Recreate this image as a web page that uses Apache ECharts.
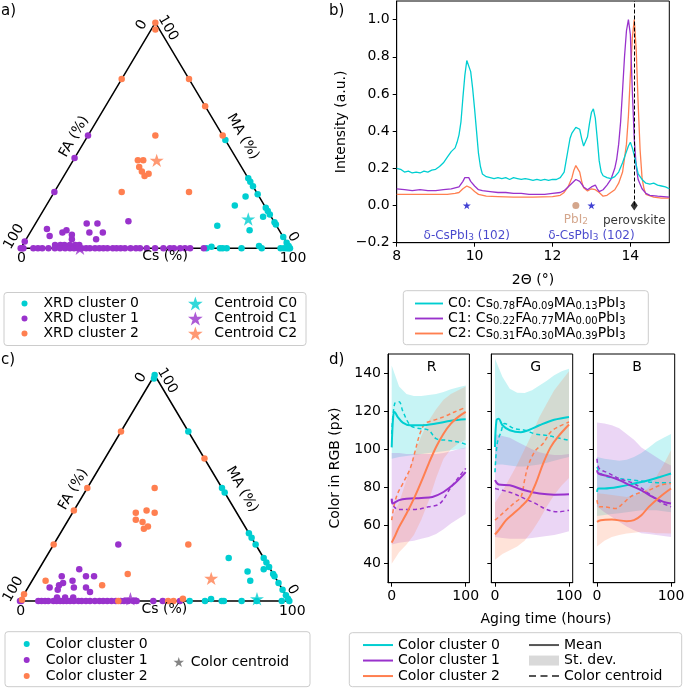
<!DOCTYPE html>
<html><head><meta charset="utf-8">
<script src="https://cdn.jsdelivr.net/npm/echarts@6/dist/echarts.min.js"></script>
<style>html,body{margin:0;padding:0;background:#fff}#c{width:685px;height:689px}</style>
</head><body><div id="c"></div>
<script>
// ---------------- DATA ----------------
// Ternary compositions [Cs, FA, MA] in %
const TRI_VERTICES = [[0,100,0],[100,0,0],[0,0,100],[0,100,0]];
const A_CLUSTER0 = [[52,0,48],[69,0,31],[70.5,0,29.5],[72.5,0,27.5],[76,0,24],[72,5,23],[70,11,19],[82,0,18],[83.5,0,16.5],[85,0,15],[83,3,14],[88.5,0,11.5],[89.5,0,10.5],[68,22,10],[81,11,8],[95,0,5],[97.5,0,2.5],[99,0,1],[100,0,0],[69,31,0],[70.5,28.8,0.7],[74,26,0],[75,25,0],[76.5,23.5,0],[82,18,0],[88,11,1],[89.5,10.5,0],[96.5,3.5,0],[97.8,2.2,0],[98.8,1.2,0],[99.5,0.5,0]];
const A_CLUSTER1 = [[0,50,50],[0,60,40],[0,75,25],[34,54,12],[19,70,11],[23,66,11],[5.5,86,8.5],[12,81,7],[13,79,8],[8,86.5,5.5],[17,79,4],[16,78,6],[22,71,7],[27,66,7],[26,70,4],[0,97,3],[12,86.5,1.5],[14,84.5,1.5],[15.5,83,1.5],[17.5,81,1.5],[19.5,79,1.5],[21,77.5,1.5],[0,100,0],[0.5,99.5,0],[1,99,0],[4.7,95.3,0],[6.4,93.6,0],[8,92,0],[10.3,89.7,0],[12.7,87.3,0],[14.6,85.4,0],[16.5,83.5,0],[18.3,81.7,0],[19.8,80.2,0],[21.4,78.6,0],[22.6,77.4,0],[24.3,75.7,0],[25.7,74.3,0],[27.6,72.4,0],[29.2,70.8,0],[30.7,69.3,0],[32.2,67.8,0],[34.2,65.8,0],[35.6,64.4,0],[37.1,62.9,0],[38.7,61.3,0],[40.8,59.2,0],[42.8,57.2,0],[44.3,55.7,0],[46.8,53.2,0],[49.9,50.1,0],[53,47,0],[55.4,44.6,0],[56.9,43.1,0],[59.2,40.8,0],[61,39,0],[62.9,37.1,0],[68,32,0]];
const A_CLUSTER2 = [[0,0,100],[1.5,1.5,97],[0,25,75],[25,0,75],[37,0,63],[50,0,50],[25,25,50],[24,37,39],[26,35,39],[26,38,36],[28,38,34],[30,38,32],[31,36,33],[25,50,25],[50,25,25]];
const XRD_CENTROIDS = [[0.78,0.09,0.13],[0.22,0.77,0.00],[0.31,0.30,0.39]];

const C_CLUSTER0 = [[0,0,100],[0.5,1,98.5],[25,0,75],[50,0,50],[52,0,48],[70,0,30],[72,0,28],[75,0,25],[68,13,19],[81,0,19],[83,0,17],[85,0,15],[78,9,13],[83.5,2.5,14],[88,0,12],[89,0,11],[81,10,9],[92,0,8],[95,0,5],[97.5,0,2.5],[99,0,1],[100,0,0],[63,37,0],[68.7,31.3,0],[70.5,28.6,0.9],[74.9,25.1,0],[75.7,24.3,0],[82.3,17.7,0],[87.9,12.1,0],[97.2,2.8,0]];
const C_CLUSTER1 = [[24,51,25],[15,71,14],[19,70,11],[22,67,11],[10,79,11],[15,76,9],[11,82,7],[12,80,8],[8,86,6],[11.5,83.5,5],[17,77,6],[21.5,72.5,6],[24,72,4],[13,85.5,1.5],[16,82.5,1.5],[19,79.5,1.5],[0,100,0],[0.5,99.5,0],[6.8,93.2,0],[8,92,0],[9.3,90.7,0],[10.5,89.5,0],[12.4,87.6,0],[13.6,86.4,0],[14.9,85.1,0],[16.1,83.9,0],[17.3,82.7,0],[18.6,81.4,0],[20,80,0],[21.7,78.3,0],[22.9,77.1,0],[24.5,75.5,0],[26,74,0],[27.8,72.2,0],[29.5,70.5,0],[30.9,69.1,0],[32.4,67.6,0],[34,66,0],[35.6,64.4,0],[37.4,62.6,0],[38.6,61.4,0],[40.2,59.8,0],[42.1,57.9,0],[43.3,56.7,0],[49.5,50.5,0],[53,47,0],[59.4,40.6,0]];
const C_CLUSTER2 = [[0,25,75],[37,0,63],[0,50,50],[25,25,50],[0,60,40],[23.5,37.5,39],[27,33,40],[30.5,30.5,39],[25,39,36],[28,37,35],[30,38,32],[31,36,33],[0,75,25],[50,25,25],[34,54,12],[5,86,9],[27,66,7],[0,97,3],[0.5,99,0.5],[36.5,63.5,0],[55,45,0],[57,43,0],[60,39,1]];
const C_CENTROIDS = [[87.5,11.5,1],[40.5,58.5,1],[66,24,10]];

// XRD patterns [2theta, intensity]
const XRD_C0 = [[8.0,0.20],[8.1,0.195],[8.2,0.18],[8.3,0.185],[8.4,0.175],[8.5,0.18],[8.6,0.175],[8.7,0.185],[8.8,0.18],[8.9,0.19],[9.0,0.195],[9.1,0.21],[9.2,0.23],[9.3,0.26],[9.4,0.29],[9.5,0.31],[9.55,0.34],[9.6,0.38],[9.65,0.45],[9.7,0.58],[9.75,0.70],[9.8,0.78],[9.85,0.77],[9.9,0.72],[9.95,0.63],[10.0,0.52],[10.05,0.40],[10.1,0.28],[10.15,0.21],[10.2,0.17],[10.3,0.155],[10.4,0.15],[10.5,0.145],[10.6,0.15],[10.7,0.145],[10.8,0.15],[10.9,0.14],[11.0,0.15],[11.1,0.145],[11.2,0.14],[11.3,0.145],[11.4,0.14],[11.5,0.135],[11.6,0.14],[11.7,0.135],[11.8,0.14],[11.9,0.135],[12.0,0.14],[12.1,0.14],[12.2,0.15],[12.3,0.18],[12.35,0.24],[12.4,0.30],[12.45,0.36],[12.5,0.39],[12.55,0.40],[12.6,0.42],[12.65,0.43],[12.7,0.41],[12.75,0.36],[12.8,0.32],[12.85,0.33],[12.9,0.37],[12.95,0.44],[13.0,0.50],[13.05,0.52],[13.1,0.47],[13.15,0.36],[13.2,0.24],[13.25,0.18],[13.3,0.16],[13.4,0.15],[13.5,0.145],[13.6,0.155],[13.7,0.18],[13.8,0.23],[13.9,0.29],[13.95,0.32],[14.0,0.34],[14.05,0.31],[14.1,0.27],[14.15,0.22],[14.2,0.17],[14.3,0.14],[14.4,0.12],[14.5,0.115],[14.6,0.12],[14.7,0.11],[14.8,0.105],[14.9,0.10],[15.0,0.09]];
const XRD_C1 = [[8.0,0.09],[8.2,0.085],[8.4,0.08],[8.6,0.085],[8.8,0.08],[9.0,0.08],[9.2,0.085],[9.4,0.09],[9.5,0.095],[9.6,0.10],[9.7,0.13],[9.75,0.15],[9.8,0.16],[9.85,0.15],[9.9,0.13],[10.0,0.105],[10.1,0.085],[10.2,0.08],[10.4,0.075],[10.6,0.07],[10.8,0.07],[11.0,0.065],[11.2,0.065],[11.4,0.06],[11.6,0.06],[11.8,0.06],[12.0,0.065],[12.2,0.07],[12.3,0.08],[12.4,0.10],[12.5,0.12],[12.6,0.14],[12.65,0.14],[12.7,0.13],[12.8,0.10],[12.9,0.085],[13.0,0.10],[13.05,0.11],[13.1,0.11],[13.15,0.09],[13.2,0.075],[13.3,0.085],[13.4,0.11],[13.5,0.14],[13.6,0.20],[13.65,0.25],[13.7,0.33],[13.75,0.45],[13.8,0.62],[13.85,0.80],[13.9,0.94],[13.95,1.0],[14.0,0.92],[14.05,0.62],[14.1,0.36],[14.15,0.21],[14.2,0.14],[14.3,0.09],[14.4,0.065],[14.5,0.055],[14.7,0.05],[15.0,0.045]];
const XRD_C2 = [[8.0,0.06],[8.3,0.06],[8.6,0.06],[9.0,0.06],[9.3,0.06],[9.5,0.065],[9.6,0.07],[9.7,0.09],[9.8,0.105],[9.9,0.095],[10.0,0.075],[10.1,0.06],[10.3,0.05],[10.6,0.048],[11.0,0.045],[11.5,0.045],[12.0,0.048],[12.2,0.055],[12.3,0.07],[12.4,0.10],[12.5,0.15],[12.55,0.19],[12.6,0.215],[12.65,0.22],[12.7,0.18],[12.75,0.13],[12.8,0.095],[12.9,0.078],[13.0,0.09],[13.05,0.095],[13.1,0.085],[13.2,0.07],[13.3,0.05],[13.4,0.055],[13.5,0.07],[13.6,0.085],[13.7,0.12],[13.8,0.18],[13.9,0.33],[13.95,0.48],[14.0,0.70],[14.05,0.90],[14.1,1.0],[14.15,0.84],[14.2,0.55],[14.25,0.30],[14.3,0.15],[14.35,0.09],[14.4,0.06],[14.6,0.045],[14.8,0.04],[15.0,0.04]];
const PEAK_DELTA = [9.8, 13.0];
const PEAK_PBI2 = [12.6];
const PEAK_PEROV = [14.1];
const B_XTICKS = [8,10,12,14];
const B_YTICKS = [-0.2,0,0.2,0.4,0.6,0.8,1.0];

// Color vs aging time
const D_XTICKS = [0,100];
const D_YTICKS = [40,60,80,100,120,140];
const BAND_X = [0,10,20,30,40,50,60,70,80,90,100];
const R_C0_UP = [144,133,129,128,128,128.5,129,130,131.5,132.5,133.5];
const R_C0_LO = [95,96,96.5,97,97.5,98,98.5,99,99.5,100,100.5];
const R_C1_UP = [98,98,97.5,97.5,97.5,97.5,97.5,98,99,100,101];
const R_C1_LO = [50,51,51.5,52,53,54,55.5,58,61,63.5,66];
const R_C2_UP = [64,72,84,97,107,115,121,126,129,131,133];
const R_C2_LO = [40,46,50,55,63,73,85,95,100,103,105];
const G_C0_UP = [147.5,138,131.8,129.7,129.5,131,133.5,136,138.8,141,142.3];
const G_C0_LO = [92,92,91.5,91,91,91.5,92,93,94,95,96];
const G_C1_UP = [108,107,106,104,102,100,98.5,97.5,97,97,97.5];
const G_C1_LO = [54,53.5,53,53,53,53.5,54,54.5,55,56,57];
const G_C2_UP = [72,78,85,92,100,108,117,124,131,136,141];
const G_C2_LO = [42,45,47,49,52,57,63,70,76,81,85];
const B_C0_UP = [96,95,94.5,94,94.5,96,98,101,104,106,108];
const B_C0_LO = [65,65.5,66,66.5,67,67.5,68,68,68,67.5,67];
const B_C1_UP = [114,113.5,112.6,111,108,105,101,98.5,96,93.5,91.5];
const B_C1_LO = [70,67,64.5,62,59.5,57.5,56,55.5,55,54.5,54];
const B_C2_UP = [77,76.5,76,75.5,75,75.5,77,80,85.5,92,99.5];
const B_C2_LO = [49,52,54,55,55.8,56.2,56.7,56.5,56,55.9,55.8];

const R_C0_MEAN = [[0,101],[2,117],[4,119.6],[8,117],[15,114],[25,112.6],[40,112.6],[60,113.5],[80,115],[100,115.7]];
const R_C1_MEAN = [[0,74],[1,71.5],[10,73.3],[20,74.1],[40,74.5],[55,75],[70,77.6],[85,82],[100,88]];
const R_C2_MEAN = [[0,51],[5,55],[10,59.3],[20,66.3],[30,74.1],[40,83],[50,92.5],[60,101.2],[70,108.2],[80,113.5],[90,117],[100,119.6]];
const R_C0_CENT = [[0,108],[4,124],[10,125],[15,120],[25,112.6],[35,111],[50,110],[60,105.6],[75,104.7],[90,103.8],[100,102.6]];
const R_C1_CENT = [[0,74],[3,70],[10,68.4],[30,68.4],[50,69.8],[65,71.5],[80,80],[100,90]];
const R_C2_CENT = [[0,62.8],[3,70],[8,76.8],[15,82],[25,90],[32,99.5],[38,108],[45,113.5],[55,115],[70,117],[85,119.6],[100,122]];
const G_C0_MEAN = [[0,101.2],[2,115.2],[5,116],[10,112.6],[20,110],[35,109],[45,110],[60,112.6],[80,115.5],[100,117]];
const G_C1_MEAN = [[0,83.8],[5,81.5],[20,81.1],[40,78.5],[60,76.8],[80,76.2],[100,76.4]];
const G_C2_MEAN = [[0,55.3],[5,57.6],[15,62.8],[25,66.3],[35,69.8],[45,74],[55,82],[65,92.5],[75,101],[85,106.5],[100,113]];
const G_C0_CENT = [[0,88],[3,103],[8,109],[13,113.5],[25,111],[40,110],[55,108],[70,107.3],[85,106],[100,104.7]];
const G_C1_CENT = [[0,79.4],[10,78.5],[25,76.8],[40,74.1],[55,71.5],[70,68.4],[85,67.2],[100,68]];
const G_C2_CENT = [[0,62.8],[5,64.5],[15,68],[25,71.5],[35,75],[40,83.8],[45,91.6],[55,99.5],[65,103],[75,109],[85,111.7],[100,114.3]];
const B_C0_MEAN = [[0,77.6],[2,79.4],[10,79.4],[30,80.3],[50,82],[70,83.8],[85,85.5],[100,87.3]];
const B_C1_MEAN = [[0,89],[2,87.3],[15,85.9],[30,83.8],[45,81.1],[60,78.5],[75,75],[90,72.4],[100,71.5]];
const B_C2_MEAN = [[0,61.9],[5,62.8],[20,63.1],[40,62.3],[50,62.8],[60,65.4],[70,69.8],[85,75],[100,79.4]];
const B_C0_CENT = [[0,90.7],[5,87.3],[15,85.5],[30,84.6],[50,83.8],[70,82.9],[85,82.4],[100,82.4]];
const B_C1_CENT = [[0,95],[3,89.9],[15,87.6],[30,84.6],[50,82],[70,76.8],[85,72.4],[100,69.8]];
const B_C2_CENT = [[0,73.3],[3,69.8],[10,69.8],[25,68.9],[35,71.5],[45,75],[55,76.8],[70,78.5],[85,81.1],[100,82]];

// ---------------- STYLE / LAYOUT ----------------
const FONT = 'DejaVu Sans';
const FS = 14;
const COLORS = ['#00CED1', '#9932CC', '#FF7F50'];
const BAND_FILL = ['rgba(0,206,209,0.22)', 'rgba(153,50,204,0.2)', 'rgba(255,127,80,0.22)'];
const STAR = 'path://M100,0 L122.45,69.1 L195.1,69.1 L136.3,111.8 L158.8,180.9 L100,138.2 L41.2,180.9 L63.7,111.8 L4.9,69.1 L77.55,69.1 Z';
const ICON_SOLID = 'path://M0,0h30v2h-30z';
const ICON_DASH = 'path://M0,0h7v2h-7z M11.5,0h7v2h-7z M23,0h7v2h-7z';
const tern = p => [p[0] / 100 + p[2] / 200, p[2] / 100];

const chart = echarts.init(document.getElementById('c'), null, {renderer: 'canvas'});

const gridBox = {show: true, borderColor: '#000', borderWidth: 1, backgroundColor: 'transparent', outerBoundsMode: 'none'};
const grids = [
  {left: 20.7, top: 22.7, width: 269.3, height: 225.6, outerBoundsMode: 'none'},
  Object.assign({left: 396.7, top: 1, width: 272.6, height: 241.7}, gridBox),
  {left: 20, top: 375, width: 269.3, height: 226, outerBoundsMode: 'none'},
  Object.assign({left: 388, top: 354, width: 81.4, height: 228.7}, gridBox),
  Object.assign({left: 491.3, top: 354, width: 81.4, height: 228.7}, gridBox),
  Object.assign({left: 593.3, top: 354, width: 81.4, height: 228.7}, gridBox)
];
const axLine = {show: true, onZero: false, lineStyle: {color: '#000', width: 1}};
const tick = vals => ({show: true, length: 4, lineStyle: {color: '#000', width: 1}, customValues: vals});
const lab = (vals, extra) => Object.assign({show: true, customValues: vals, color: '#000', fontSize: FS, fontFamily: FONT, margin: 7}, extra || {});
const hidden = gi => ({gridIndex: gi, type: 'value', min: 0, max: 1, show: false});

const xAxes = [
  hidden(0),
  {gridIndex: 1, type: 'value', min: 8, max: 15, axisLine: axLine, axisTick: tick(B_XTICKS), axisLabel: lab(B_XTICKS), splitLine: {show: false},
   name: '2Θ (°)', nameLocation: 'middle', nameGap: 31, nameTextStyle: {fontSize: FS, color: '#000', fontFamily: FONT}},
  hidden(2)
];
const yAxes = [
  hidden(0),
  {gridIndex: 1, type: 'value', min: -0.2, max: 1.1, axisLine: axLine, axisTick: tick(B_YTICKS),
   axisLabel: lab(B_YTICKS, {formatter: v => (v < 0 ? '\u2212' : '') + Math.abs(v).toFixed(1)}), splitLine: {show: false},
   name: 'Intensity (a.u.)', nameLocation: 'middle', nameGap: 48, nameTextStyle: {fontSize: FS, color: '#000', fontFamily: FONT}},
  hidden(2)
];
[3, 4, 5].forEach(gi => {
  xAxes.push({gridIndex: gi, type: 'value', min: -5, max: 105, axisLine: axLine, axisTick: tick(D_XTICKS), axisLabel: lab(D_XTICKS), splitLine: {show: false}});
  yAxes.push({gridIndex: gi, type: 'value', min: 30, max: 150, axisLine: axLine, axisTick: tick(D_YTICKS),
    axisLabel: gi === 3 ? lab(D_YTICKS) : {show: false}, splitLine: {show: false}});
});

const series = [];
// ---- ternary panels ----
function ternPanel(gi, prefix, clusters, names, centroidSeries) {
  series.push({type: 'line', xAxisIndex: gi, yAxisIndex: gi, data: TRI_VERTICES.map(tern), symbol: 'none', silent: true, clip: false,
    lineStyle: {color: '#000', width: 1.5}, z: 1});
  clusters.forEach((pts, k) => series.push({type: 'scatter', name: prefix + names[k], xAxisIndex: gi, yAxisIndex: gi, clip: false,
    data: pts.map(tern), symbol: 'circle', symbolSize: 6.5, itemStyle: {color: COLORS[k], opacity: 1}, z: 3}));
  centroidSeries.forEach(s => series.push(Object.assign({type: 'scatter', xAxisIndex: gi, yAxisIndex: gi, clip: false,
    symbol: STAR, symbolKeepAspect: true, z: 4}, s)));
}
ternPanel(0, '', [A_CLUSTER0, A_CLUSTER1, A_CLUSTER2], ['XRD cluster 0', 'XRD cluster 1', 'XRD cluster 2'],
  XRD_CENTROIDS.map((c, k) => ({name: 'Centroid C' + k, data: [tern(c.map(v => v * 100))], symbolSize: 14, itemStyle: {color: COLORS[k]}})));
ternPanel(2, 'c:', [C_CLUSTER0, C_CLUSTER1, C_CLUSTER2], ['Color cluster 0', 'Color cluster 1', 'Color cluster 2'],
  [{name: 'c:Color centroid', symbolSize: 14, itemStyle: {color: '#666666'},
    data: C_CENTROIDS.map((c, k) => ({value: tern(c), itemStyle: {color: COLORS[k]}}))}]);

// ---- XRD ----
[XRD_C0, XRD_C1, XRD_C2].forEach((d, k) => series.push({type: 'line', name: 'C' + k, xAxisIndex: 1, yAxisIndex: 1, data: d,
  symbol: 'none', lineStyle: {color: COLORS[k], width: 1.3}, itemStyle: {color: COLORS[k]}, z: 3 - k}));
const subRich = {s: {fontSize: 9, lineHeight: 9, verticalAlign: 'bottom'}};
series.push({type: 'scatter', xAxisIndex: 1, yAxisIndex: 1, symbol: STAR, symbolKeepAspect: true, symbolSize: 8, silent: true,
  itemStyle: {color: '#1010c8'}, data: PEAK_DELTA.map(x => [x, 0]),
  label: {show: true, position: 'bottom', distance: 21, formatter: 'δ-CsPbI{s|3} (102)', color: '#1a1ac0', fontSize: 12, fontFamily: FONT, rich: subRich}, z: 5});
series.push({type: 'scatter', xAxisIndex: 1, yAxisIndex: 1, symbol: 'circle', symbolSize: 7, silent: true,
  itemStyle: {color: '#c9906f'}, data: PEAK_PBI2.map(x => [x, 0]),
  label: {show: true, position: 'bottom', distance: 5, formatter: 'PbI{s|2}', color: '#c9906f', fontSize: 12, fontFamily: FONT, rich: subRich}, z: 5});
series.push({type: 'scatter', xAxisIndex: 1, yAxisIndex: 1, symbol: 'diamond', symbolSize: [7, 10], silent: true,
  itemStyle: {color: '#000'}, data: PEAK_PEROV.map(x => [x, 0]),
  label: {show: true, position: 'bottom', distance: 4, formatter: 'perovskite', color: '#000', fontSize: 12, fontFamily: FONT}, z: 5,
  markLine: {silent: true, symbol: ['none', 'none'], label: {show: false}, lineStyle: {color: '#000', type: 'dashed', width: 1},
    data: PEAK_PEROV.map(x => [{coord: [x, 0]}, {coord: [x, 1.1]}])}});

// ---- color vs time ----
const D_SETS = [
  {gi: 3, up: [R_C0_UP, R_C1_UP, R_C2_UP], lo: [R_C0_LO, R_C1_LO, R_C2_LO], mean: [R_C0_MEAN, R_C1_MEAN, R_C2_MEAN], cent: [R_C0_CENT, R_C1_CENT, R_C2_CENT]},
  {gi: 4, up: [G_C0_UP, G_C1_UP, G_C2_UP], lo: [G_C0_LO, G_C1_LO, G_C2_LO], mean: [G_C0_MEAN, G_C1_MEAN, G_C2_MEAN], cent: [G_C0_CENT, G_C1_CENT, G_C2_CENT]},
  {gi: 5, up: [B_C0_UP, B_C1_UP, B_C2_UP], lo: [B_C0_LO, B_C1_LO, B_C2_LO], mean: [B_C0_MEAN, B_C1_MEAN, B_C2_MEAN], cent: [B_C0_CENT, B_C1_CENT, B_C2_CENT]}
];
D_SETS.forEach(p => {
  for (let k = 0; k < 3; k++) {
    const up = p.up[k], lo = p.lo[k];
    series.push({type: 'custom', xAxisIndex: p.gi, yAxisIndex: p.gi, silent: true, z: 1,
      data: BAND_X.map((x, i) => [x, lo[i], up[i]]),
      encode: {x: 0, y: [1, 2]},
      renderItem: (params, api) => {
        if (params.dataIndex !== 0) return null;
        const top = BAND_X.map((x, i) => api.coord([x, up[i]]));
        const bot = BAND_X.map((x, i) => api.coord([x, lo[i]])).reverse();
        return {type: 'polygon', shape: {points: top.concat(bot)}, style: {fill: BAND_FILL[k], stroke: null}};
      }});
  }
  for (let k = 0; k < 3; k++) {
    series.push({type: 'line', name: 'd:Color cluster ' + k, xAxisIndex: p.gi, yAxisIndex: p.gi, smooth: 0.35, symbol: 'none',
      data: p.mean[k], lineStyle: {color: COLORS[k], width: 2}, itemStyle: {color: COLORS[k]}, z: 4});
    series.push({type: 'line', name: 'cent' + k, xAxisIndex: p.gi, yAxisIndex: p.gi, smooth: 0.35, symbol: 'none',
      data: p.cent[k], lineStyle: {color: COLORS[k], width: 1.5, type: [4, 3]}, itemStyle: {color: COLORS[k]}, z: 3});
  }
});
series.push({type: 'line', name: 'd:Mean', xAxisIndex: 3, yAxisIndex: 3, data: [], symbol: 'none', lineStyle: {color: '#555', width: 2}, itemStyle: {color: '#555'}});
series.push({type: 'line', name: 'd:St. dev.', xAxisIndex: 3, yAxisIndex: 3, data: [], symbol: 'none', lineStyle: {color: '#d9d9d9', width: 2}, itemStyle: {color: '#d9d9d9'}});
series.push({type: 'line', name: 'd:Color centroid', xAxisIndex: 3, yAxisIndex: 3, data: [], symbol: 'none', lineStyle: {color: '#555', width: 1.5, type: [4, 3]}, itemStyle: {color: '#555'}});

// ---- legends ----
const strip = n => n.replace(/^[a-d]:/, '');
const lt = lh => ({fontSize: FS, fontFamily: FONT, color: '#000', lineHeight: lh});
const bNames = XRD_CENTROIDS.map((c, k) => 'C' + k + ': Cs{s|' + c[0].toFixed(2) + '}FA{s|' + c[1].toFixed(2) + '}MA{s|' + c[2].toFixed(2) + '}PbI{s|3}');
const noBorder = {borderWidth: 0};
const legends = [
  {left: 21.5, top: 296, orient: 'vertical', padding: 0, itemGap: 0, itemWidth: 28, itemHeight: 6, z: 10, icon: 'circle', itemStyle: noBorder,
   data: ['XRD cluster 0', 'XRD cluster 1', 'XRD cluster 2'], textStyle: lt(15)},
  {left: 188, top: 296, orient: 'vertical', padding: 0, itemGap: 0, itemWidth: 28, itemHeight: 14, z: 10, icon: STAR, itemStyle: noBorder,
   data: ['Centroid C0', 'Centroid C1', 'Centroid C2'], textStyle: lt(15)},
  {left: 415, top: 296, orient: 'vertical', padding: 0, itemGap: 0, itemWidth: 28, itemHeight: 14, z: 10, icon: ICON_SOLID, itemStyle: noBorder,
   data: ['C0', 'C1', 'C2'], formatter: n => bNames[+n.slice(1)],
   textStyle: Object.assign(lt(15), {rich: {s: {fontSize: 10, lineHeight: 10, verticalAlign: 'bottom', fontFamily: FONT, color: '#000'}}})},
  {left: 23.7, top: 636, orient: 'vertical', padding: 0, itemGap: 0, itemWidth: 28, itemHeight: 6, z: 10, icon: 'circle', itemStyle: noBorder,
   data: ['c:Color cluster 0', 'c:Color cluster 1', 'c:Color cluster 2'], formatter: strip, textStyle: lt(16)},
  {left: 173.5, top: 654, orient: 'vertical', padding: 0, itemGap: 0, itemWidth: 14, itemHeight: 10, z: 10, icon: STAR, itemStyle: noBorder,
   data: ['c:Color centroid'], formatter: strip, textStyle: lt(16)},
  {left: 363, top: 637.3, orient: 'vertical', padding: 0, itemGap: 0, itemWidth: 30, itemHeight: 10, z: 10, icon: ICON_SOLID, itemStyle: noBorder,
   data: ['d:Color cluster 0', 'd:Color cluster 1', 'd:Color cluster 2'], formatter: strip, textStyle: lt(15.5)},
  {left: 529, top: 637.3, orient: 'vertical', padding: 0, itemGap: 0, itemWidth: 30, itemHeight: 10, z: 10, itemStyle: noBorder,
   data: [{name: 'd:Mean', icon: ICON_SOLID}, {name: 'd:St. dev.', icon: 'rect', itemStyle: {color: '#d9d9d9'}}, {name: 'd:Color centroid', icon: ICON_DASH}],
   formatter: strip, textStyle: lt(15.5)}
];

// ---- graphics (texts and legend frames) ----
const G = [];
function txt(t, x, y, rot, extra) {
  G.push({type: 'text', x: x, y: y, rotation: (rot || 0) * Math.PI / 180, z: 5, silent: true,
    style: Object.assign({text: t, fontSize: FS, fontFamily: FONT, fill: '#000', align: 'center', verticalAlign: 'middle'}, extra || {})});
}
function frame(x, y, w, h) {
  G.push({type: 'rect', z: 0, silent: true, shape: {x: x, y: y, width: w, height: h, r: 3},
    style: {fill: 'rgba(255,255,255,0.8)', stroke: '#cccccc', lineWidth: 1}});
}
function ternLabels(dx, dy) {
  txt('0', 141.7 + dx, 25 + dy, 60);
  txt('100', 168 + dx, 28 + dy, -60);
  txt('FA (%)', 74 + dx, 136.7 + dy, 60);
  txt('MA (%)', 242.7 + dx, 136.7 + dy, -60);
  txt('100', 14 + dx, 236.7 + dy, 60);
  txt('0', 293 + dx, 237 + dy, -60);
  txt('0', 21.5 + dx, 258.3 + dy, 0);
  txt('Cs (%)', 165 + dx, 256.7 + dy, 0);
  txt('100', 293 + dx, 258.3 + dy, 0);
}
ternLabels(0, 0);
ternLabels(-0.7, 352.7);
txt('a)', 1, 11, 0, {align: 'left', fontSize: 15});
txt('b)', 329, 11, 0, {align: 'left', fontSize: 15});
txt('c)', 1, 360, 0, {align: 'left', fontSize: 15});
txt('d)', 329, 360, 0, {align: 'left', fontSize: 15});
txt('R', 431.7, 367.3);
txt('G', 535.7, 367.3);
txt('B', 637, 367.3);
txt('Color in RGB (px)', 335, 468, 90);
txt('Aging time (hours)', 546, 619);
frame(4, 292.5, 302, 53);
frame(403.3, 290.7, 245, 54);
frame(5, 631.7, 305, 55);
frame(349.3, 632.7, 332.4, 54);

chart.setOption({
  animation: false,
  backgroundColor: '#fff',
  textStyle: {fontFamily: FONT},
  grid: grids,
  xAxis: xAxes,
  yAxis: yAxes,
  legend: legends,
  graphic: G,
  series: series
});
</script>
</body></html>
